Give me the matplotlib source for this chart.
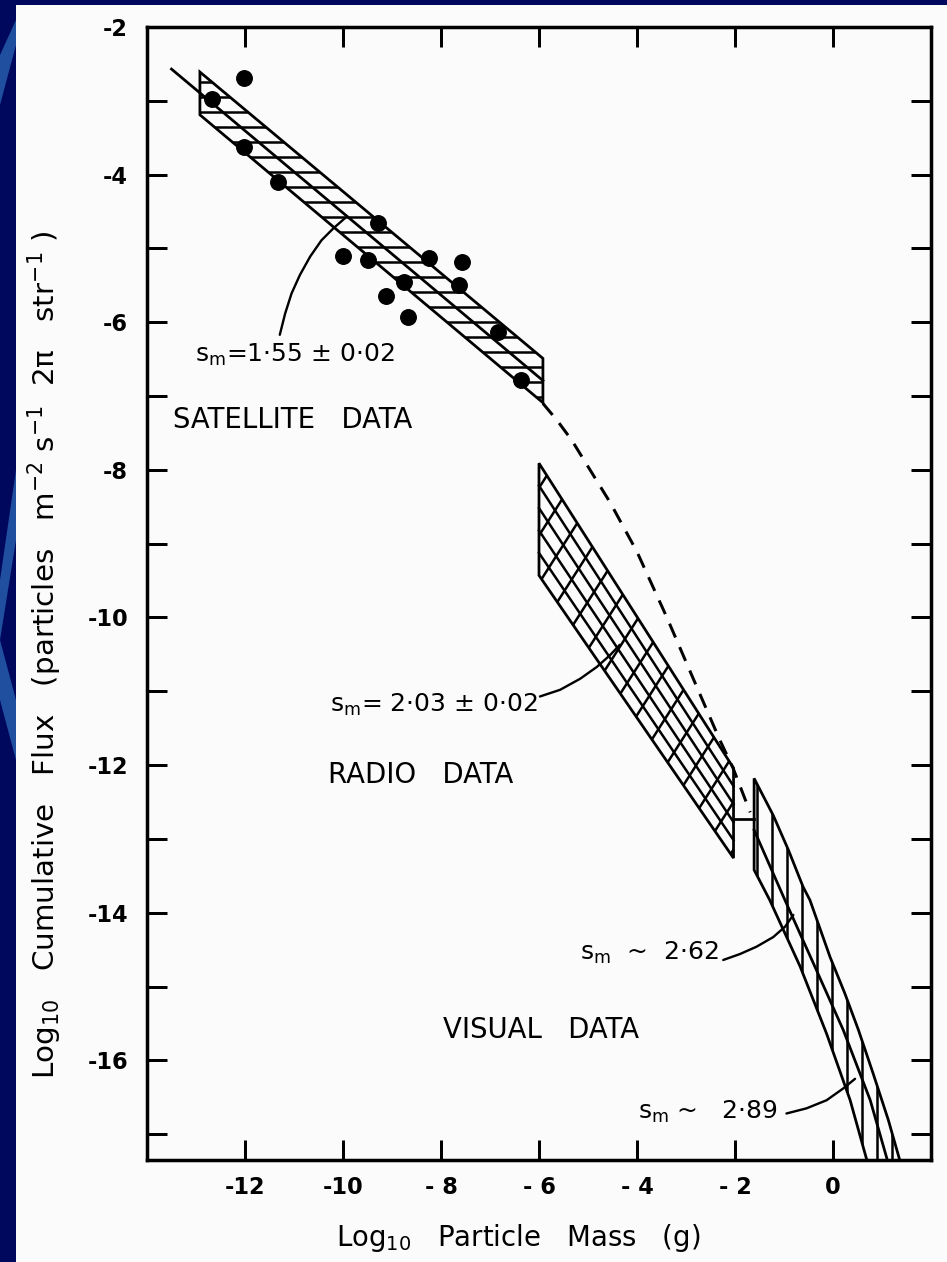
import numpy as np
import matplotlib
matplotlib.use("Agg")
import matplotlib.pyplot as plt
from matplotlib.patches import Polygon, Rectangle

# ---------------- data ----------------
sat_mass = [-12.68, -12.02, -12.02, -11.33, -9.29, -10.01, -9.50, -8.76, -9.13,
            -8.67, -8.24, -7.58, -7.63, -6.83, -6.37]
sat_flux = [-2.97, -2.69, -3.63, -4.10, -4.66, -5.10, -5.15, -5.45, -5.65,
            -5.93, -5.13, -5.18, -5.50, -6.13, -6.78]

sat_band_mass = [-12.92, -5.92, -5.92, -12.92]
sat_band_flux = [-2.61, -6.49, -7.09, -3.19]
sat_fit_mass = [-13.50, -5.92]
sat_fit_flux = [-2.57, -6.79]

radio_band_mass = [-6.00, -2.03, -2.03, -6.00]
radio_band_flux = [-7.91, -12.04, -13.26, -9.43]

visual_upper_mass = [-1.61, -1.22, -0.91, -0.61, -0.47, -0.06, 0.24, 0.52, 0.82, 1.13, 1.40]
visual_upper_flux = [-12.18, -12.68, -13.15, -13.65, -13.83, -14.60, -15.09, -15.59, -16.18, -16.81, -17.44]
visual_mid_mass = [-1.61, -0.98, -0.37, 0.21, 0.76, 1.13]
visual_mid_flux = [-12.88, -13.83, -14.73, -15.59, -16.54, -17.40]
visual_lower_mass = [-1.61, -1.29, -0.67, -0.13, 0.35, 0.69]
visual_lower_flux = [-13.42, -13.83, -14.73, -15.64, -16.54, -17.35]

link_mass = [-2.03, -1.61]
link_flux = [-12.73, -12.73]

dash_mass = [-5.92, -5.63, -5.33, -4.55, -4.00, -3.39, -2.78, -2.31, -2.04, -1.69]
dash_flux = [-7.10, -7.33, -7.60, -8.44, -9.11, -10.00, -10.94, -11.66, -12.04, -12.64]

lead_sat_mass = [-11.29, -11.18, -11.05, -10.88, -10.67, -10.44, -10.20, -9.96]
lead_sat_flux = [-6.17, -5.88, -5.61, -5.36, -5.11, -4.89, -4.73, -4.59]
lead_radio_mass = [-5.98, -5.57, -5.16, -4.82, -4.55, -4.35]
lead_radio_flux = [-11.07, -10.98, -10.83, -10.67, -10.51, -10.37]
lead_v1_mass = [-2.24, -1.90, -1.56, -1.22, -0.98, -0.81]
lead_v1_flux = [-14.64, -14.56, -14.46, -14.33, -14.19, -14.03]
lead_v2_mass = [-0.95, -0.54, -0.13, 0.21, 0.45]
lead_v2_flux = [-16.72, -16.65, -16.54, -16.38, -16.25]

xtick_values = [-12, -10, -8, -6, -4, -2, 0]
xtick_labels = ["-12", "-10", "- 8", "- 6", "- 4", "- 2", "0"]
ytick_values = [-2, -4, -6, -8, -10, -12, -14, -16]
ytick_labels = ["-2", "-4", "-6", "-8", "-10", "-12", "-14", "-16"]
yminor_values = [-3, -5, -7, -9, -11, -13, -15, -17]

# ---------------- figure ----------------
W, H, DPI = 947, 1262, 90
plt.rcParams['font.family'] = ['DejaVu Sans']
plt.rcParams['hatch.linewidth'] = 2.0
plt.rcParams['hatch.color'] = 'black'
fig = plt.figure(figsize=(W / DPI, H / DPI), dpi=DPI)
fig.patch.set_facecolor('#00085e')

def fx(px):
    return px / W

def fy(py):
    return 1 - py / H

# paper sheet and decorative lighter streaks of the slide background
fig.add_artist(Rectangle((fx(16), 0), 1 - fx(16), fy(5), transform=fig.transFigure,
                         facecolor='#fbfbfb', edgecolor='none', zorder=-5))
for poly in ([(0, 55), (16, 20), (16, 45), (0, 105)],
             [(16, 470), (0, 580), (0, 640), (16, 540)],
             [(0, 640), (16, 700), (16, 760), (0, 700)]):
    fig.add_artist(Polygon([(fx(a), fy(b)) for a, b in poly], closed=True,
                           transform=fig.transFigure, facecolor='#1f4f9e',
                           edgecolor='none', zorder=-4))

ax = fig.add_axes([fx(147), fy(1160), fx(931) - fx(147), fy(27) - fy(1160)])
ax.set_facecolor('none')
ax.set_xlim(-14, 2)
ax.set_ylim(-17.35, -2)

for s in ax.spines.values():
    s.set_linewidth(2.8)

ax.set_xticks(xtick_values)
ax.set_xticklabels(xtick_labels, fontweight='bold')
ax.set_yticks(ytick_values)
ax.set_yticklabels(ytick_labels, fontweight='bold')
ax.set_yticks(yminor_values, minor=True)
ax.tick_params(axis='both', which='both', direction='in', length=16, width=2.4,
               top=True, right=True, labelsize=18)
ax.tick_params(axis='x', which='minor', top=False, bottom=False)
ax.tick_params(axis='x', pad=13)
ax.tick_params(axis='y', pad=15)

lw = 2.2

# satellite band
sat = Polygon(np.column_stack([sat_band_mass, sat_band_flux]), closed=True,
              facecolor='none', edgecolor='black', lw=lw, hatch='-', zorder=3)
ax.add_patch(sat)
ax.plot(sat_fit_mass, sat_fit_flux, color='black', lw=lw, zorder=3)
ax.plot(sat_mass, sat_flux, 'o', color='black', ms=12.5, zorder=4)

# dashed extrapolation
ax.plot(dash_mass, dash_flux, color='black', lw=2.4, ls=(0, (5, 3.5)), zorder=3)

# radio band with diamond cross hatching
rb = np.column_stack([radio_band_mass, radio_band_flux])
radio = Polygon(rb, closed=True, facecolor='none', edgecolor='black', lw=lw, zorder=3)
ax.add_patch(radio)
u0, u1, l1, l0 = rb[0], rb[1], rb[2], rb[3]
for f in np.linspace(0, 1, 6)[1:-1]:
    p0 = u0 + f * (l0 - u0)
    p1 = u1 + f * (l1 - u1)
    ax.plot([p0[0], p1[0]], [p0[1], p1[1]], color='black', lw=2.0, zorder=3)
slope = (u1[1] - u0[1]) / (u1[0] - u0[0])
for xs in np.arange(-7.5, -1.0, 0.31):
    y_at = l0[1] + (xs - l0[0]) * slope
    ln, = ax.plot([xs - 2, xs + 2], [y_at + 2 * slope, y_at - 2 * slope],
                  color='black', lw=2.0, zorder=3)
    ln.set_clip_path(radio)

ax.plot(link_mass, link_flux, color='black', lw=lw, zorder=3)

# visual band
vis_pts = np.vstack([np.column_stack([visual_upper_mass, visual_upper_flux]),
                     np.column_stack([visual_lower_mass, visual_lower_flux])[::-1]])
vis = Polygon(vis_pts, closed=True, facecolor='none', edgecolor='black', lw=lw,
              hatch='|', zorder=3)
ax.add_patch(vis)
ax.plot(visual_mid_mass, visual_mid_flux, color='black', lw=lw, zorder=3)

# leaders
for mx, my in ((lead_sat_mass, lead_sat_flux), (lead_radio_mass, lead_radio_flux),
               (lead_v1_mass, lead_v1_flux), (lead_v2_mass, lead_v2_flux)):
    ax.plot(mx, my, color='black', lw=1.9, zorder=3, solid_capstyle='round')

# annotations
fs_s = 20
fs_d = 22
sm = r's$_{\mathregular{m}}$'
ax.text(-13.02, -6.44, sm + '=1·55 ± 0·02', fontsize=fs_s, ha='left', va='center')
ax.text(-13.47, -7.33, 'SATELLITE   DATA', fontsize=fs_d, ha='left', va='center')
ax.text(-10.27, -11.19, sm + '= 2·03 ± 0·02', fontsize=fs_s, ha='left', va='center')
ax.text(-10.31, -12.14, 'RADIO   DATA', fontsize=fs_d, ha='left', va='center')
ax.text(-5.16, -14.55, sm + '  ~  2·62', fontsize=fs_s, ha='left', va='center')
ax.text(-3.98, -16.70, sm + ' ~   2·89', fontsize=fs_s, ha='left', va='center')
ax.text(-7.96, -15.59, 'VISUAL   DATA', fontsize=fs_d, ha='left', va='center')

# axis labels
fig.text(fx(518), fy(1238), r'Log$_{\mathregular{10}}$   Particle   Mass   (g)',
         fontsize=22, ha='center', va='center')
fig.text(fx(45), fy(655),
         r'Log$_{\mathregular{10}}$   Cumulative   Flux   (particles   m$^{\mathregular{-2}}$ s$^{\mathregular{-1}}$  2π   str$^{\mathregular{-1}}$ )',
         fontsize=23.5, ha='center', va='center', rotation=90)

fig.savefig('out.png', dpi=DPI, facecolor=fig.get_facecolor())
